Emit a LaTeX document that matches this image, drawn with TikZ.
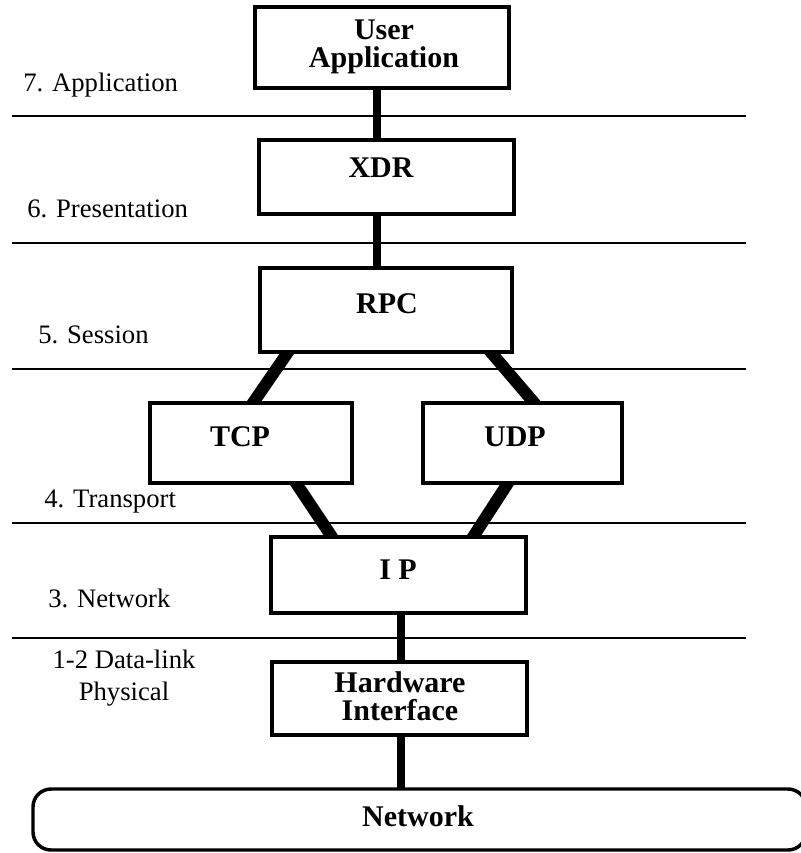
\documentclass[tikz,border=0pt]{standalone}
\usepackage{fontspec}
\setmainfont{Liberation Serif}
\usetikzlibrary{fit,backgrounds}
\begin{document}
\begin{tikzpicture}[x=0.75pt,y=-0.75pt,
  box/.style={draw,line width=2.3pt,fill=white,inner sep=0pt},
  netbox/.style={draw,line width=2.6pt,rounded corners=13.5pt,inner sep=0pt},
  sepline/.style={line width=1.7pt},
  vconn/.style={line width=5.5pt,shorten <=-2pt,shorten >=-2pt},
  dconn/.style={line width=9pt,shorten <=-4pt,shorten >=-4pt},
  layertext/.style={font=\fontsize{20}{24}\selectfont,inner sep=0pt},
  btext/.style={font=\fontsize{22.5}{21}\selectfont\bfseries,align=center,inner sep=0pt}]

\useasboundingbox (0,0) rectangle (800,853);

% boxes
\node[box,fit={(255,7)(509,88)}] (ua) {};
\node[box,fit={(259,140)(514,214)}] (xdr) {};
\node[box,fit={(260,268)(512,352)}] (rpc) {};
\node[box,fit={(150,403)(352,483)}] (tcp) {};
\node[box,fit={(423,403)(622,483)}] (udp) {};
\node[box,fit={(271,537)(526,613)}] (ip) {};
\node[box,fit={(272,662)(527,735)}] (hw) {};
\node[netbox,fit={(33,789)(806,850)}] (net) {};

% box texts
\node[btext] (uat) at (384,47) {User\\Application};
\node[btext] (xdrt) at (381,168) {XDR};
\node[btext] (rpct) at (387,304) {RPC};
\node[btext] (tcpt) at (240,437) {TCP};
\node[btext] (udpt) at (515,437) {UDP};
\node[btext] (ipt) at (398,570) {I P};
\node[btext,font=\fontsize{22.5}{21}\selectfont\bfseries] (hwt) at (400,696) {Hardware\\Interface};
\node[btext] (nett) at (418,816) {Network};

% layer labels
\node[layertext,anchor=base west] (l7) at (23,91) {7. Application};
\node[layertext,anchor=base west] (l6) at (27,217) {6. Presentation};
\node[layertext,anchor=base west] (l5) at (38,343) {5. Session};
\node[layertext,anchor=base west] (l4) at (44,507) {4. Transport};
\node[layertext,anchor=base west] (l3) at (48,607) {3. Network};
\node[layertext,align=center,font=\fontsize{20}{24}\selectfont] (l12) at (124,678) {1-2 Data-link\\Physical};

% separator lines
\coordinate (s1l) at (12,116); \coordinate (s1r) at (746,116);
\coordinate (s2l) at (12,243); \coordinate (s2r) at (746,243);
\coordinate (s3l) at (12,369); \coordinate (s3r) at (746,369);
\coordinate (s4l) at (12,523); \coordinate (s4r) at (746,523);
\coordinate (s5l) at (12,638); \coordinate (s5r) at (746,638);
\draw[sepline] (s1l) -- (s1r);
\draw[sepline] (s2l) -- (s2r);
\draw[sepline] (s3l) -- (s3r);
\draw[sepline] (s4l) -- (s4r);
\draw[sepline] (s5l) -- (s5r);

% connector axes
\coordinate (axA) at (377,0);
\coordinate (axB) at (401,0);

\begin{scope}[on background layer]
  \fill[white] (0,0) rectangle (800,853);
  \draw[vconn] (ua.south -| axA) -- (xdr.north -| axA);
  \draw[vconn] (xdr.south -| axA) -- (rpc.north -| axA);
  \draw[dconn] ([xshift=-74.25pt]rpc.south) -- ([xshift=2.25pt]tcp.north);
  \draw[dconn] ([xshift=79.5pt]rpc.south) -- ([xshift=7.875pt]udp.north);
  \draw[dconn] ([xshift=34.5pt]tcp.south) -- ([xshift=-50.625pt]ip.north);
  \draw[dconn] ([xshift=-11.625pt]udp.south) -- ([xshift=56.625pt]ip.north);
  \draw[vconn] (ip.south -| axB) -- (hw.north -| axB);
  \draw[vconn] (hw.south -| axB) -- (net.north -| axB);
\end{scope}
\end{tikzpicture}
\end{document}
